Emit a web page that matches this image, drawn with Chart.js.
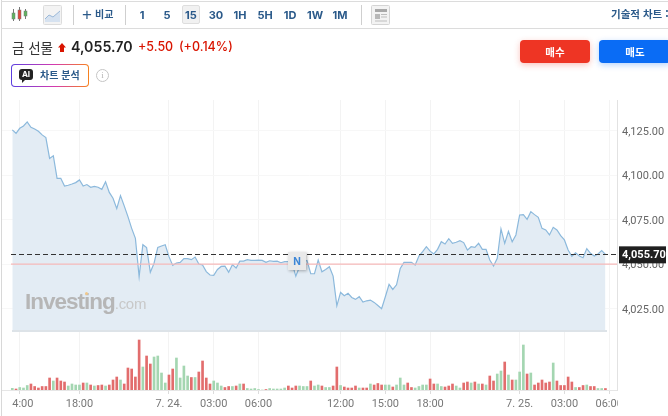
<!DOCTYPE html>
<html lang="ko">
<head>
<meta charset="utf-8">
<title>금 선물</title>
<script src="https://cdn.jsdelivr.net/npm/chart.js@4"></script>
<style>
  html, body { margin: 0; padding: 0; background: #fff; }
  body { width: 668px; height: 416px; overflow: hidden; position: relative; font-family: Inter, "Noto Sans CJK KR", sans-serif; }
  #myChart { position: absolute; left: 0; top: 0; }
  .abs { position: absolute; white-space: nowrap; }
  #frameLeft { left: 1px; top: 0; width: 1px; height: 416px; background: #d8d8d8; }
  #barTop { left: 1px; top: 1px; width: 667px; height: 1px; background: #dcdcdc; }
  #barBottom { left: 1px; top: 28px; width: 667px; height: 1px; background: #dcdcdc; }
  .sep { top: 5px; width: 1px; height: 20px; background: #cfcfcf; }
  .tf { top: 7px; font: 700 11px/16px Inter, sans-serif; color: #2b5a8a; transform: translateX(-50%); }
  #tfActive { left: 182px; top: 5px; width: 18px; height: 19px; background: #f1f1f1; border: 1px solid #dedede; box-sizing: border-box; border-radius: 2px; }
  #compare { left: 82px; top: 6px; font: 700 10px/16px "Noto Sans CJK KR", sans-serif; color: #2b5a8a; }
  #compare b { font: 400 17px/16px "Liberation Sans", sans-serif; vertical-align: -2px; margin-right: 3px; }
  #techChart { left: 611px; top: 6px; font: 700 10.5px/16px "Noto Sans CJK KR", sans-serif; color: #2b5a8a; }
  #name { left: 12px; top: 37px; font: 400 13.5px/20px "Noto Sans CJK KR", sans-serif; color: #333; }
  #lastPrice { left: 71px; top: 37px; font: 600 14.2px/20px Inter, sans-serif; color: #222; }
  #change { left: 138px; top: 37px; font: 500 12.5px/20px Inter, sans-serif; color: #d91400; }
  #pct { left: 179px; top: 37px; font: 500 12.5px/20px Inter, sans-serif; color: #d91400; }
  #aiBadge { left: 11px; top: 64px; width: 78px; height: 23px; box-sizing: border-box; border: 1px solid transparent; border-radius: 4px;
    background: linear-gradient(#fff, #fff) padding-box, linear-gradient(90deg, #5b3fe0, #d43ab0 55%, #f7821e) border-box; }
  #aiIcon { left: 19px; top: 69px; width: 14px; height: 11px; background: #222; border-radius: 3px; color: #fff; font: 700 8px/11px Inter, sans-serif; text-align: center; }
  #aiTail { left: 22px; top: 80px; width: 0; height: 0; border-left: 3px solid #222; border-bottom: 3px solid transparent; }
  #aiText { left: 40px; top: 67px; font: 700 10px/16px "Noto Sans CJK KR", sans-serif; color: #2b5a8a; }
  #info { left: 96px; top: 69px; width: 13px; height: 13px; box-sizing: border-box; border: 1px solid #c4c4c4; border-radius: 50%; color: #b5b5b5; font: 400 9px/11px "Liberation Serif", serif; text-align: center; }
  .trade { top: 40px; height: 23px; border-radius: 4px; color: #fff; font: 700 10.5px/23px "Noto Sans CJK KR", sans-serif; text-align: center; }
  #buy { left: 520px; width: 70px; background: #ee3524; box-shadow: 0 2px 6px rgba(238, 53, 36, .3); }
  #sell { left: 599px; width: 72px; background: #0a6cf5; box-shadow: 0 2px 6px rgba(10, 108, 245, .3); }
  #logo { left: 25px; top: 288px; color: #b6b6b6; font: 700 22.5px/28px "Liberation Sans", sans-serif; letter-spacing: -1px; }
  #logo span { font-weight: 400; font-size: 15px; letter-spacing: -.3px; color: #c8c8c8; }
  #logoDot { left: 85px; top: 292px; width: 3px; height: 3px; border-radius: 50%; background: #f2c88a; }
  #news { left: 288px; top: 252px; width: 18px; height: 18px; background: #e9e9e9; box-shadow: 1px 1px 3px rgba(0, 0, 0, .3); color: #3d86d6; font: 700 10px/18px Inter, sans-serif; text-align: center; }
</style>
</head>
<body>
<canvas id="myChart" width="668" height="416"></canvas>

<div class="abs" id="frameLeft"></div>
<div class="abs" id="barTop"></div>
<div class="abs" id="barBottom"></div>

<svg class="abs" style="left:11px;top:6px" width="17" height="18" viewBox="0 0 17 18">
  <path d="M2.5 3v12M8.5 1v14M14.5 3v10" stroke="#777" stroke-width="1"/>
  <rect x="1" y="7" width="3" height="6" fill="#5fb35f" stroke="#777" stroke-width=".5"/>
  <rect x="7" y="4" width="3" height="9" fill="#e2463c" stroke="#777" stroke-width=".5"/>
  <rect x="13" y="5" width="3" height="5" fill="#5fb35f" stroke="#777" stroke-width=".5"/>
</svg>
<svg class="abs" style="left:43px;top:5px" width="19" height="20" viewBox="0 0 19 20">
  <rect x=".5" y=".5" width="18" height="19" rx="1" fill="#f3f3f3" stroke="#dcdcdc"/>
  <path d="M2 14l4-4 4 2 7-6v11H2z" fill="#d6e2f0"/>
  <path d="M2 14l4-4 4 2 7-6" fill="none" stroke="#9ab8d8"/>
</svg>
<div class="abs sep" style="left:73px"></div>
<div class="abs" id="compare"><b>+</b>비교</div>
<div class="abs sep" style="left:125px"></div>
<div class="abs" id="tfActive"></div>
<div class="abs tf" style="left:142px">1</div>
<div class="abs tf" style="left:167px">5</div>
<div class="abs tf" style="left:191px">15</div>
<div class="abs tf" style="left:216px">30</div>
<div class="abs tf" style="left:240px">1H</div>
<div class="abs tf" style="left:265px">5H</div>
<div class="abs tf" style="left:290px">1D</div>
<div class="abs tf" style="left:315px">1W</div>
<div class="abs tf" style="left:340px">1M</div>
<div class="abs sep" style="left:361px"></div>
<svg class="abs" style="left:371px;top:5px" width="19" height="20" viewBox="0 0 19 20">
  <rect x=".5" y=".5" width="18" height="19" rx="1" fill="#f3f3f3" stroke="#d4d4d4"/>
  <rect x="4" y="4" width="12" height="3" fill="#a8a8a8"/>
  <rect x="4" y="9" width="5" height="5" fill="#b8b8b8"/>
  <path d="M10 9.5h6M10 12h6M4 16h12" stroke="#bdbdbd"/>
</svg>
<div class="abs" id="techChart">기술적 차트 :</div>

<div class="abs" id="name">금 선물</div>
<svg class="abs" style="left:58px;top:43px" width="8" height="9" viewBox="0 0 8 9"><path d="M4 0l4 4.5H6V9H2V4.5H0z" fill="#d91400"/></svg>
<div class="abs" id="lastPrice">4,055.70</div>
<div class="abs" id="change">+5.50</div>
<div class="abs" id="pct">(+0.14%)</div>
<div class="abs" id="aiBadge"></div>
<div class="abs" id="aiIcon">AI</div>
<div class="abs" id="aiTail"></div>
<div class="abs" id="aiText">차트 분석</div>
<div class="abs" id="info">i</div>
<div class="abs trade" id="buy">매수</div>
<div class="abs trade" id="sell">매도</div>

<div class="abs" id="logo">Investing<span>.com</span></div>
<div class="abs" id="logoDot"></div>
<div class="abs" id="news">N</div>

<script>
'use strict';

const lastClose = 4055.7;
const prevClose = 4050.2;

const priceTicks = [4025, 4050, 4075, 4100, 4125];
const timeTicks = [2, 18, 42, 54, 66, 88, 100, 112, 136, 148, 160];
const timeLabels = ['14:00', '18:00', '7. 24.', '03:00', '06:00', '12:00', '15:00', '18:00', '7. 25.', '03:00', '06:00'];

const prices = [
  4125.6, 4123.7, 4126.5, 4127.8, 4130.1, 4127.1, 4126.1, 4124.8, 4122.8, 4121.3,
  4109.6, 4111.1, 4098.4, 4098.4, 4094.1, 4094.5, 4095.2, 4096.0, 4097.5, 4094.1,
  4094.9, 4093.4, 4093.9, 4093.4, 4092.2, 4096.5, 4090.5, 4087.2, 4081.4, 4088.7,
  4082.9, 4076.9, 4070.3, 4064.7, 4043.2, 4061.1, 4059.5, 4045.6, 4050.7, 4059.6,
  4060.4, 4061.1, 4054.4, 4049.5, 4050.8, 4051.2, 4053.3, 4053.3, 4052.7, 4054.2,
  4050.3, 4049.7, 4046.0, 4044.1, 4043.9, 4047.2, 4048.9, 4049.1, 4045.7, 4049.9,
  4048.0, 4051.9, 4051.9, 4052.7, 4052.3, 4052.3, 4052.5, 4052.3, 4051.2, 4052.1,
  4051.7, 4051.9, 4051.0, 4051.6, 4051.6, 4050.6, 4043.5, 4048.7, 4051.6, 4052.3,
  4044.8, 4044.8, 4052.5, 4045.9, 4047.2, 4048.7, 4043.5, 4026.8, 4034.3, 4032.5,
  4033.8, 4031.5, 4030.4, 4031.9, 4028.9, 4029.6, 4030.0, 4028.7, 4027.0, 4025.2,
  4031.9, 4038.8, 4036.0, 4038.6, 4047.8, 4051.2, 4051.2, 4051.2, 4049.7, 4054.7,
  4057.2, 4060.0, 4057.5, 4055.9, 4058.5, 4062.8, 4061.5, 4064.5, 4061.9, 4062.5,
  4063.4, 4062.3, 4058.1, 4060.0, 4059.6, 4061.9, 4058.5, 4058.5, 4052.5, 4049.1,
  4053.5, 4070.0, 4061.9, 4068.6, 4062.8, 4066.6, 4077.8, 4078.0, 4075.4, 4079.7,
  4078.0, 4076.5, 4070.3, 4069.4, 4066.6, 4070.9, 4069.4, 4066.2, 4063.8, 4058.1,
  4054.6, 4056.6, 4054.8, 4053.8, 4058.9, 4056.3, 4054.8, 4055.9, 4057.8, 4055.7
];

const volumes = [
  1.7, 1, 2.5, 2, 4.5, 6, 3.5, 2, 3.5, 3.5, 12, 9, 12, 9, 8, 4, 6, 5, 5, 7,
  7, 5, 4, 4.5, 5, 4, 5, 10, 13, 10, 6, 22, 21, 13, 50, 23, 34, 26, 33, 34,
  17, 7, 15, 21, 32, 12, 24, 14, 12.5, 12.5, 18, 29, 12, 6, 9, 7, 4, 2.5, 3.5, 3.5,
  4, 6, 6, 1.5, 1, 1.5, 0.5, 0, 0.5, 1.5, 1, 1, 1, 2, 4, 2, 4, 4, 3.5, 3.5,
  9, 4, 5, 4, 2.5, 2.5, 4, 23, 4.5, 3, 2, 2, 4, 2, 2, 2, 6, 5, 6.5, 5,
  5, 5, 3, 5, 12, 5, 7, 2.5, 2, 3.5, 5, 5, 11, 6, 6, 3.5, 3, 4, 6, 4,
  2, 7, 8, 7, 8, 6, 6, 5, 14, 9, 16, 19, 28, 15, 10, 10, 18, 45, 16, 17,
  5, 7, 10, 7, 8, 27, 9, 4.5, 4.5, 13, 8, 2.5, 2.5, 4.5, 5, 3.5, 3.5, 1.5, 1.5, 1.5
];

// 1 = up bar (red on this site), 0 = down bar (green)
const volumeUp = [
  0, 1, 0, 0, 0, 1, 1, 1, 1, 1, 1, 0, 1, 1, 1, 0, 0, 0, 0, 1,
  0, 1, 0, 1, 1, 0, 1, 1, 1, 0, 1, 1, 1, 1, 1, 0, 1, 1, 0, 0,
  0, 0, 1, 1, 0, 0, 0, 0, 1, 0, 1, 1, 1, 1, 0, 0, 0, 1, 1, 0,
  1, 0, 1, 0, 0, 0, 0, 0, 1, 0, 0, 0, 0, 0, 1, 1, 1, 0, 0, 0,
  1, 0, 0, 1, 0, 0, 1, 1, 0, 1, 1, 1, 1, 0, 1, 1, 0, 1, 1, 1,
  0, 0, 1, 0, 0, 0, 1, 1, 0, 0, 0, 0, 1, 1, 0, 0, 1, 1, 1, 0,
  0, 1, 1, 0, 1, 0, 1, 0, 1, 1, 0, 0, 1, 0, 1, 0, 0, 0, 1, 0,
  1, 1, 1, 1, 1, 0, 1, 1, 1, 1, 1, 0, 1, 1, 0, 1, 1, 0, 0, 1
];

const axisFont = { family: 'Roboto, "Liberation Sans", sans-serif', size: 11 };

// price lines, the last price tag and the clipping of the outer time labels
const priceLines = {
  id: 'priceLines',
  afterDraw(chart) {
    const c = chart.ctx;
    const y = chart.scales.y;
    const area = chart.chartArea;

    c.save();
    c.fillStyle = '#fff';
    c.fillRect(2, area.bottom + 5, 10, 22);
    c.fillRect(area.right + 1, area.bottom + 1, 51, 26);

    c.strokeStyle = '#f6b9b9';
    c.lineWidth = 1.2;
    c.beginPath();
    c.moveTo(11, y.getPixelForValue(prevClose));
    c.lineTo(area.right, y.getPixelForValue(prevClose));
    c.stroke();

    c.strokeStyle = '#333';
    c.lineWidth = 1;
    c.setLineDash([5, 3]);
    c.beginPath();
    c.moveTo(11, Math.round(y.getPixelForValue(lastClose)) + 0.5);
    c.lineTo(area.right, Math.round(y.getPixelForValue(lastClose)) + 0.5);
    c.stroke();
    c.setLineDash([]);

    const tagY = y.getPixelForValue(lastClose);
    c.fillStyle = '#1f1f1f';
    c.fillRect(619, tagY - 8, 47, 17);
    c.fillStyle = '#fff';
    c.font = '700 11px Roboto, "Liberation Sans", sans-serif';
    c.textBaseline = 'middle';
    c.fillText(lastClose.toLocaleString('en-US', { minimumFractionDigits: 2 }), 622, tagY + 1);
    c.restore();
  }
};

new Chart(document.getElementById('myChart').getContext('2d'), {
  type: 'line',
  data: {
    datasets: [
      {
        type: 'line',
        data: prices.map((p, i) => ({ x: i, y: p })),
        yAxisID: 'y',
        borderColor: '#8cb9dc',
        borderWidth: 1.2,
        backgroundColor: '#e3ecf4',
        fill: 'start',
        tension: 0,
        pointRadius: 0
      },
      {
        type: 'bar',
        data: volumes.map((v, i) => ({ x: i, y: v })),
        yAxisID: 'vol',
        backgroundColor: volumeUp.map(up => (up ? '#e26d6d' : '#a4d6b1')),
        barThickness: 2
      }
    ]
  },
  plugins: [priceLines],
  options: {
    responsive: false,
    animation: false,
    layout: { padding: { top: 100, left: 2 } },
    plugins: { legend: { display: false }, tooltip: { enabled: false } },
    scales: {
      x: {
        type: 'linear',
        offset: false,
        min: -2.76,
        max: 162.1,
        afterBuildTicks: scale => { scale.ticks = timeTicks.map(value => ({ value })); },
        afterFit: scale => { scale.height = 26; },
        ticks: {
          autoSkip: false,
          maxRotation: 0,
          padding: 4,
          color: '#777',
          font: axisFont,
          callback: value => timeLabels[timeTicks.indexOf(value)]
        },
        grid: { offset: false, color: '#f3f3f3', tickColor: '#dcdcdc', tickLength: 4 },
        border: { color: '#e6e6e6' }
      },
      y: {
        position: 'right',
        stack: 'panes',
        stackWeight: 230,
        min: 4013.2,
        max: 4142.4,
        afterBuildTicks: scale => { scale.ticks = priceTicks.map(value => ({ value })); },
        afterFit: scale => { scale.width = 51; },
        ticks: {
          padding: 5,
          labelOffset: 1,
          color: '#666',
          font: axisFont,
          callback: value => value.toLocaleString('en-US', { minimumFractionDigits: 2 })
        },
        grid: { color: '#f7f7f7', drawTicks: false },
        border: { color: '#e2e2e2' }
      },
      vol: {
        position: 'right',
        stack: 'panes',
        stackWeight: 60,
        min: 0,
        max: 60,
        afterFit: scale => { scale.width = 51; },
        ticks: { display: false },
        grid: { display: false },
        border: { color: '#e2e2e2' }
      }
    }
  }
});

// band under the price pane
const band = document.createElement('div');
band.className = 'abs';
band.style.cssText = 'left:12px;top:330px;width:595px;height:2px;background:#dde3e8';
document.body.append(band);
</script>
</body>
</html>
